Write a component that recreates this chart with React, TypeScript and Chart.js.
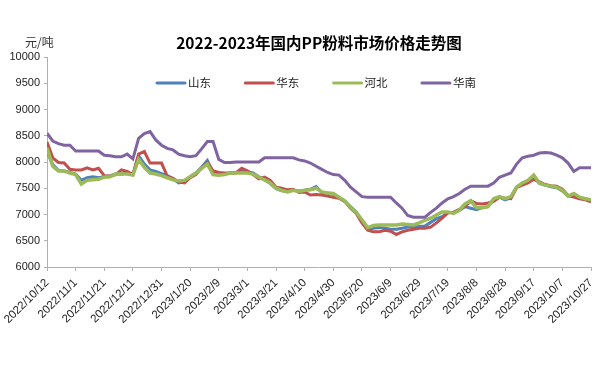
import React, { useEffect, useRef } from "react";
import { Chart, registerables } from "chart.js";

Chart.register(...registerables);

const TITLE = "2022-2023年国内PP粉料市场价格走势图";
const Y_UNIT = "元/吨";

// x axis tick labels, one every 20 days starting 2022/10/12
const X_TICK_LABELS = [
  "2022/10/12", "2022/11/1", "2022/11/21", "2022/12/11", "2022/12/31",
  "2023/1/20", "2023/2/9", "2023/3/1", "2023/3/21", "2023/4/10",
  "2023/4/30", "2023/5/20", "2023/6/9", "2023/6/29", "2023/7/19",
  "2023/8/8", "2023/8/28", "2023/9/17", "2023/10/7", "2023/10/27",
];

// sample days (offset in days from 2022/10/12)
const DAYS = [
  0, 4, 8, 12, 16, 20, 24, 28, 32, 36, 40, 44, 48, 52, 56, 60, 64, 68, 72, 76,
  80, 84, 88, 92, 96, 100, 104, 108, 112, 116, 120, 124, 128, 132, 136, 140, 144, 148, 152, 156,
  160, 164, 168, 172, 176, 180, 184, 188, 192, 196, 200, 204, 208, 212, 216, 220, 224, 228, 232, 236,
  240, 244, 248, 252, 256, 260, 264, 268, 272, 276, 280, 284, 288, 292, 296, 300, 304, 308, 312, 316,
  320, 324, 328, 332, 336, 340, 344, 348, 352, 356, 360, 364, 368, 372, 376, 380,
];

const SHANDONG = [
  8200, 7950, 7840, 7830, 7800, 7770, 7650, 7700, 7720, 7700, 7720, 7740, 7770, 7770, 7790, 7760, 8120, 7960, 7850, 7820,
  7780, 7740, 7680, 7600, 7620, 7720, 7790, 7900, 8030, 7800, 7770, 7770, 7790, 7800, 7820, 7810, 7790, 7720, 7660, 7590,
  7490, 7450, 7440, 7460, 7450, 7460, 7480, 7530, 7420, 7410, 7390, 7320, 7250, 7150, 7050, 6880, 6720, 6740, 6750, 6740,
  6720, 6720, 6740, 6760, 6760, 6770, 6780, 6850, 6920, 6960, 7040, 7040, 7080, 7150, 7120, 7090, 7130, 7150, 7280, 7330,
  7280, 7320, 7520, 7580, 7640, 7720, 7590, 7560, 7530, 7510, 7450, 7350, 7380, 7320, 7300, 7260,
];

const HUADONG = [
  8380, 8080, 7990, 7980, 7860, 7850, 7850, 7890, 7850, 7880, 7740, 7730, 7760, 7850, 7820, 7760, 8150, 8200, 7980, 7980,
  7980, 7730, 7690, 7620, 7600, 7700, 7760, 7890, 7990, 7830, 7800, 7790, 7790, 7790, 7880, 7830, 7760, 7680, 7710, 7650,
  7520, 7500, 7470, 7480, 7420, 7430, 7370, 7380, 7370, 7350, 7330, 7310, 7250, 7120, 7020, 6840, 6700, 6670, 6670, 6700,
  6680, 6620, 6670, 6700, 6720, 6740, 6740, 6760, 6840, 6930, 7030, 7040, 7100, 7150, 7260, 7210, 7200, 7220, 7250, 7330,
  7310, 7300, 7510, 7560, 7600, 7670, 7620, 7570, 7550, 7540, 7480, 7360, 7330, 7300, 7280, 7240,
];

const HEBEI = [
  8270, 7920, 7830, 7830, 7790, 7760, 7580, 7650, 7660, 7670, 7710, 7720, 7770, 7770, 7770, 7750, 8050, 7900, 7790, 7770,
  7740, 7700, 7660, 7640, 7650, 7720, 7790, 7880, 7960, 7760, 7750, 7760, 7790, 7790, 7790, 7790, 7770, 7710, 7660, 7600,
  7500, 7460, 7430, 7460, 7440, 7460, 7470, 7500, 7430, 7410, 7400, 7330, 7260, 7140, 7040, 6900, 6750, 6790, 6800, 6800,
  6800, 6800, 6820, 6810, 6800, 6840, 6890, 6930, 6990, 7050, 7050, 7020, 7080, 7200, 7260, 7130, 7130, 7150, 7300, 7340,
  7300, 7340, 7520, 7600, 7650, 7750, 7600, 7560, 7540, 7520, 7460, 7350, 7400, 7330, 7300, 7280,
];

const HUANAN = [
  8550, 8400, 8350, 8320, 8320, 8210, 8210, 8210, 8210, 8210, 8130, 8120, 8100, 8100, 8150, 8060, 8450, 8540, 8580, 8420,
  8320, 8260, 8230, 8150, 8120, 8100, 8120, 8250, 8390, 8390, 8050, 7990, 7990, 8000, 8000, 8000, 8000, 8000, 8080, 8080,
  8080, 8080, 8080, 8080, 8040, 8020, 7980, 7920, 7860, 7800, 7760, 7750, 7650, 7520, 7430, 7340, 7330, 7330, 7330, 7330,
  7330, 7220, 7120, 6980, 6950, 6950, 6950, 7040, 7120, 7220, 7300, 7340, 7400, 7480, 7540, 7540, 7540, 7540, 7600, 7710,
  7750, 7790, 7960, 8080, 8110, 8130, 8170, 8180, 8170, 8130, 8080, 7980, 7820, 7890, 7890, 7890,
];

const SERIES_NAMES = ["山东", "华东", "河北", "华南"];
const SERIES_COLORS = ["#4F81BD", "#C0504D", "#9BBB59", "#8064A2"];
const SERIES_VALUES = [SHANDONG, HUADONG, HEBEI, HUANAN];

const Y_MIN = 6000;
const Y_MAX = 10000;
const Y_STEP = 500;
const X_STEP = 20;

const overlayPlugin = {
  id: "overlayTexts",
  afterDraw(chart: any) {
    const { ctx, chartArea } = chart;
    const cx = (chartArea.left + chartArea.right) / 2;
    ctx.save();
    ctx.fillStyle = "#000";
    ctx.textBaseline = "middle";
    ctx.textAlign = "center";
    ctx.font = 'bold 15.5px "Noto Sans CJK SC", sans-serif';
    ctx.fillText(TITLE, cx, 43);

    ctx.textAlign = "left";
    ctx.fillStyle = "#333";
    ctx.font = '12px "Noto Sans CJK SC", sans-serif';
    ctx.fillText(Y_UNIT, 25, 42);

    const ly = 83;
    chart.data.datasets.forEach((ds: any, i: number) => {
      const x0 = cx - 162 + i * 88.3;
      ctx.strokeStyle = ds.borderColor;
      ctx.lineWidth = 3;
      ctx.lineCap = "round";
      ctx.beginPath();
      ctx.moveTo(x0, ly);
      ctx.lineTo(x0 + 28, ly);
      ctx.stroke();
      ctx.fillStyle = "#222";
      ctx.font = '11.5px "Noto Sans CJK SC", sans-serif';
      ctx.fillText(ds.label, x0 + 31, ly);
    });
    ctx.restore();
  },
};

export default function App() {
  const canvasRef = useRef<HTMLCanvasElement | null>(null);

  useEffect(() => {
    if (!canvasRef.current) return;
    const datasets = SERIES_NAMES.map((name, i) => ({
      label: name,
      data: DAYS.map((d, j) => ({ x: d, y: SERIES_VALUES[i][j] })),
      borderColor: SERIES_COLORS[i],
      backgroundColor: SERIES_COLORS[i],
      borderWidth: i === 2 ? 3.5 : 3,
      pointRadius: 0,
      tension: 0,
      order: 3 - i,
    }));

    const tickFont = { family: '"Liberation Sans", Arial, sans-serif', size: 11 };

    const chart = new Chart(canvasRef.current, {
      type: "line",
      data: { datasets },
      options: {
        animation: false,
        responsive: true,
        maintainAspectRatio: false,
        layout: { padding: { left: 0, right: 15, top: 57, bottom: 0 } },
        plugins: {
          legend: { display: false },
          title: { display: false },
          tooltip: { enabled: false },
        },
        scales: {
          x: {
            type: "linear",
            min: DAYS[0],
            max: DAYS[DAYS.length - 1],
            afterFit: (s: any) => {
              s.height = 106;
            },
            ticks: {
              stepSize: X_STEP,
              autoSkip: false,
              minRotation: 45,
              maxRotation: 45,
              padding: 5,
              color: "#222",
              font: { family: '"Liberation Sans", Arial, sans-serif', size: 11.5 },
              callback: (v: any) => {
                const idx = Math.round(Number(v) / X_STEP);
                return X_TICK_LABELS[idx] ?? "";
              },
            },
            grid: {
              drawOnChartArea: false,
              drawTicks: true,
              tickLength: 4,
              color: "#b0b0b0",
            },
            border: { display: true, color: "#b0b0b0", width: 1 },
          },
          y: {
            min: Y_MIN,
            max: Y_MAX,
            afterFit: (s: any) => {
              s.width = 47;
            },
            ticks: {
              stepSize: Y_STEP,
              padding: 4,
              color: "#222",
              font: tickFont,
              callback: (v: any) => String(v),
            },
            grid: {
              drawOnChartArea: false,
              drawTicks: true,
              tickLength: 3,
              color: "#b0b0b0",
            },
            border: { display: true, color: "#b0b0b0", width: 1 },
          },
        },
      },
      plugins: [overlayPlugin],
    });
    return () => chart.destroy();
  }, []);

  return (
    <div
      style={{
        position: "fixed",
        left: 0,
        top: 0,
        width: 606,
        height: 373,
        background: "#fff",
      }}
    >
      <canvas ref={canvasRef} />
    </div>
  );
}
